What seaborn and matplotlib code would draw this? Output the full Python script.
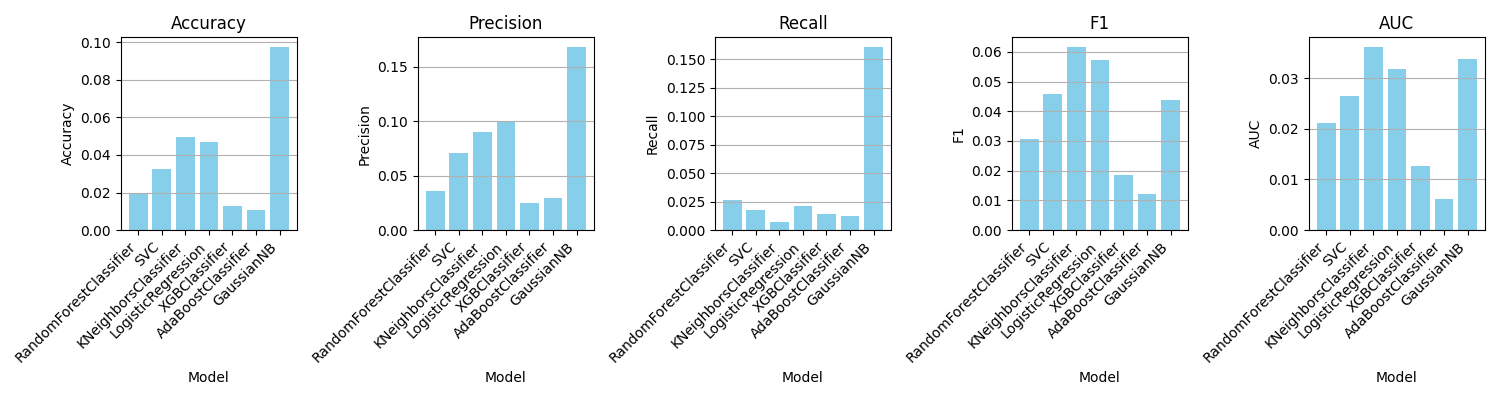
import matplotlib.pyplot as plt
import matplotlib.ticker as mticker
import pandas as pd
import seaborn as sns

models = [
    "RandomForestClassifier",
    "SVC",
    "KNeighborsClassifier",
    "LogisticRegression",
    "XGBClassifier",
    "AdaBoostClassifier",
    "GaussianNB",
]

accuracy = [0.0198, 0.0323, 0.0497, 0.0470, 0.0128, 0.0107, 0.0978]
precision = [0.0358, 0.0712, 0.0903, 0.0998, 0.0248, 0.0293, 0.1688]
recall = [0.0262, 0.0175, 0.0070, 0.0211, 0.0140, 0.0122, 0.1612]
f1 = [0.0305, 0.0458, 0.0618, 0.0571, 0.0184, 0.0121, 0.0437]
auc = [0.0212, 0.0265, 0.0363, 0.0318, 0.0126, 0.0061, 0.0338]

metrics = ["Accuracy", "Precision", "Recall", "F1", "AUC"]
# tick step per panel
tick_steps = {"Accuracy": 0.02, "Precision": 0.05, "Recall": 0.025, "F1": 0.01, "AUC": 0.01}

df = pd.DataFrame({
    "Model": models,
    "Accuracy": accuracy,
    "Precision": precision,
    "Recall": recall,
    "F1": f1,
    "AUC": auc,
})

fig, axes = plt.subplots(1, 5, figsize=(15, 4), dpi=100)

for ax, metric in zip(axes, metrics):
    sns.barplot(data=df, x="Model", y=metric, color="skyblue", saturation=1,
                width=0.8, ax=ax)
    n = len(models)
    pad = 0.05 * (n - 1 + 0.8)
    ax.set_xlim(-0.4 - pad, n - 1 + 0.4 + pad)
    ax.yaxis.set_major_locator(mticker.MultipleLocator(tick_steps[metric]))
    ax.set_title(metric)
    ax.set_xlabel("Model")
    ax.set_ylabel(metric)
    ax.set_xticks(range(n))
    ax.set_xticklabels(models, rotation=45, ha="right")
    ax.grid(axis="y")

plt.tight_layout()
fig.savefig("out.png", dpi=100)
